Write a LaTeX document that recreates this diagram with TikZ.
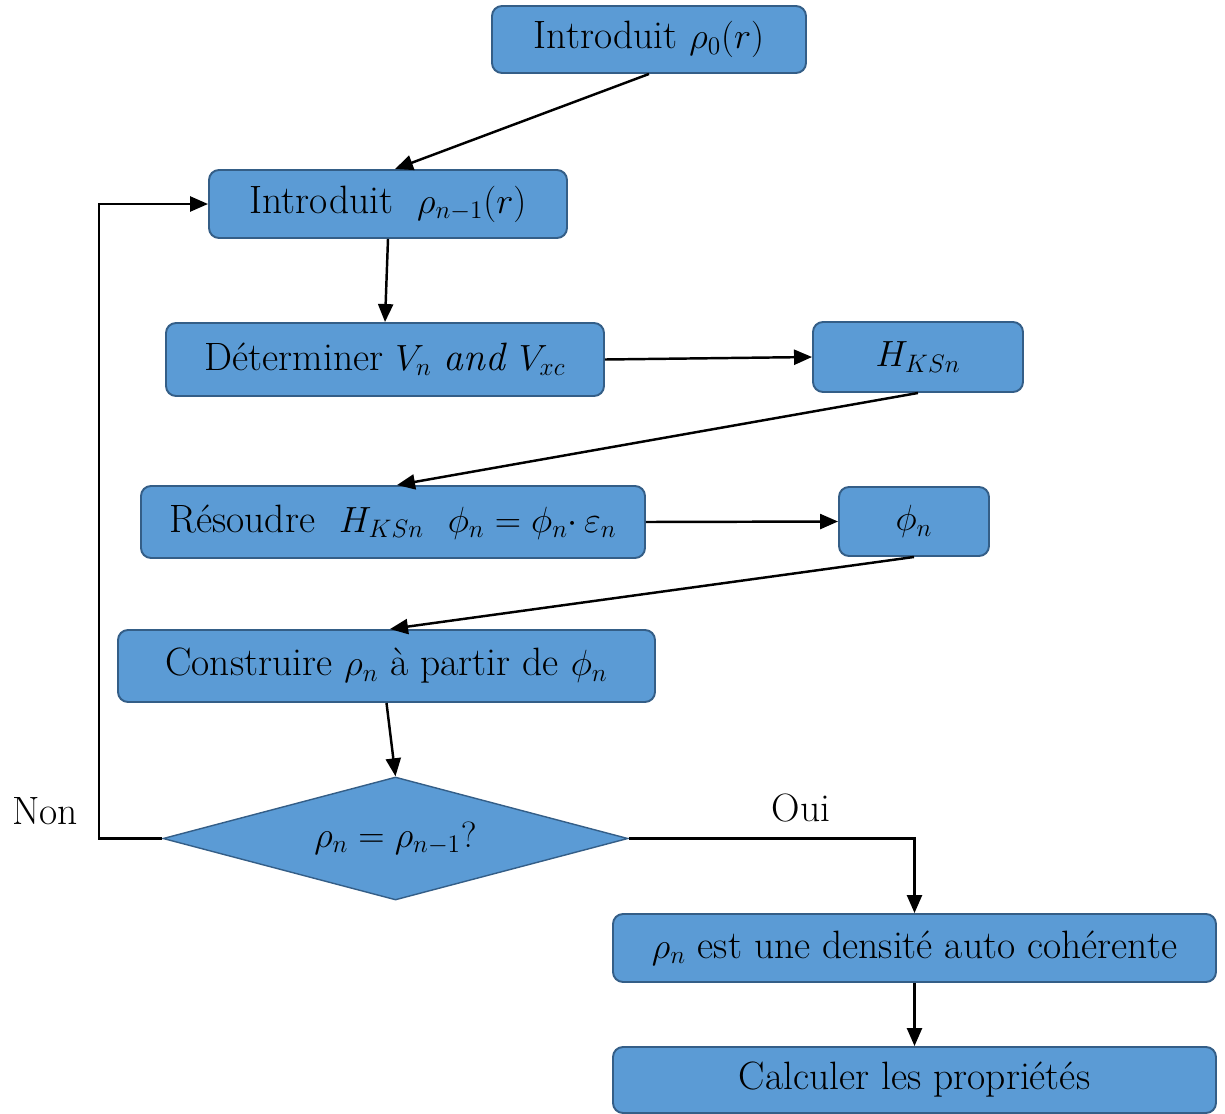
\documentclass[tikz,border=0pt]{standalone}
\usepackage{amsmath}
\usepackage{xcolor}
\usepackage{tikz}
\usetikzlibrary{arrows.meta, shapes.geometric}

\definecolor{boxblue}{RGB}{91,155,213}
\definecolor{boxline}{RGB}{52,94,135}

\begin{document}
\begin{tikzpicture}[
            every node/.style={font=\fontsize{22.5}{27}\selectfont},
            bluebox/.style={draw=boxline, fill=boxblue, line width=1.1pt, rounded corners=0.2cm, inner sep=0pt},
            testbox/.style={diamond, aspect=3.8, draw=boxline, fill=boxblue, line width=0.8pt, inner sep=0pt},
            arr/.style={-{Triangle[length=0.36cm, width=0.3cm]}, line width=1.4pt},
        ]
        \useasboundingbox (0,0) rectangle (24.5,-22.28);
        \node (b0) at (12.98,-0.79) [bluebox, minimum width=6.28cm, minimum height=1.34cm] {Introduit $\rho_0(r)$};
        \node (b1) at (7.76,-4.08) [bluebox, minimum width=7.16cm, minimum height=1.36cm] {Introduit \ $\rho_{n-1}(r)$};
        \node (b2) at (7.70,-7.19) [bluebox, minimum width=8.76cm, minimum height=1.46cm] {Déterminer $V_n$ \textit{and} $V_{xc}$};
        \node (b3) at (18.36,-7.14) [bluebox, minimum width=4.2cm, minimum height=1.4cm] {$H_{KSn}$};
        \node (b4) at (7.86,-10.44) [bluebox, minimum width=10.08cm, minimum height=1.44cm] {Résoudre \ $H_{KSn}\ \ \phi_n=\phi_n{\cdot}\,\varepsilon_n$};
        \node (b5) at (18.28,-10.43) [bluebox, minimum width=3cm, minimum height=1.38cm] {$\phi_n$};
        \node (b6) at (7.73,-13.32) [bluebox, minimum width=10.74cm, minimum height=1.44cm] {Construire $\rho_n$ à partir de $\phi_n$};
        \node (test) at (7.91,-16.77) [testbox, minimum width=9.3cm, minimum height=2.46cm] {$\rho_n=\rho_{n-1}?$};
        \node (b7) at (18.29,-18.96) [bluebox, minimum width=12.06cm, minimum height=1.36cm] {$\rho_n$ est une densité auto cohérente};
        \node (b8) at (18.29,-21.6) [bluebox, minimum width=12.06cm, minimum height=1.32cm] {Calculer les propriétés};
        \node (non) at (0.9,-16.22) {Non};
        \node (oui) at (16.02,-16.16) {Oui};
        \coordinate (back) at (1.98,-16.77);

        \draw[arr] (b0.south) -- ([xshift=0.14cm]b1.north);
        \draw[arr] (b1.south) -- (b2.north);
        \draw[arr] (b2.east) -- (b3.west);
        \draw[arr] (b3.south) -- ([xshift=0.08cm]b4.north);
        \draw[arr] (b4.east) -- (b5.west);
        \draw[arr] (b5.south) -- ([xshift=0.07cm]b6.north);
        \draw[arr] (b6.south) -- (test.north);
        \draw[arr] (test.west) -- (back) |- (b1.west);
        \draw[arr] (test.east) -| (b7.north);
        \draw[arr] (b7.south) -- (b8.north);
        \end{tikzpicture}
\end{document}
